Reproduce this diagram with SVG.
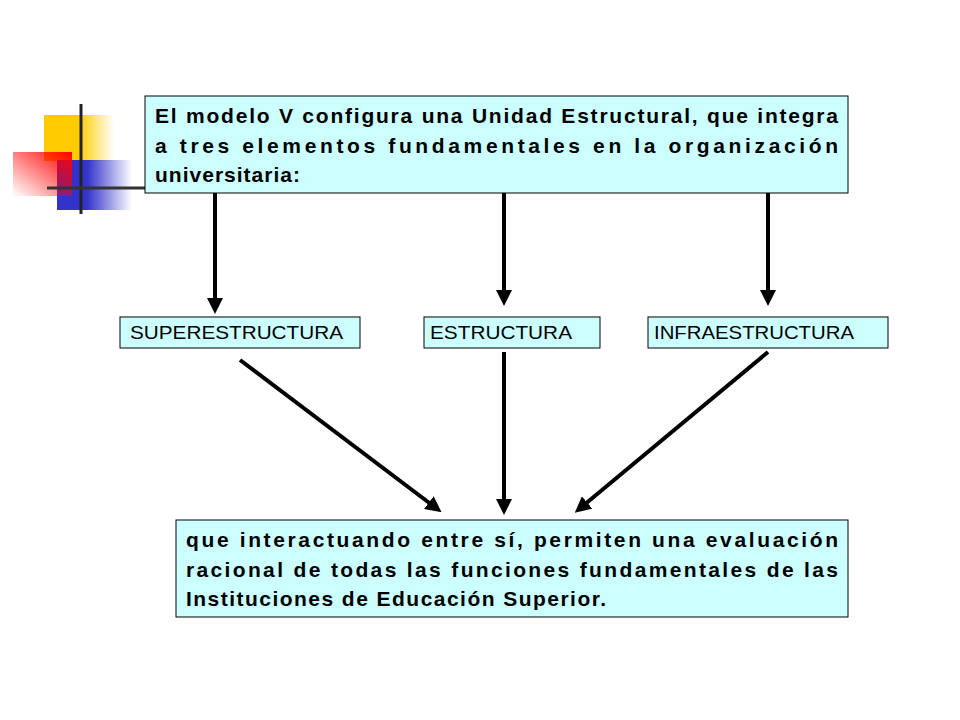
<svg xmlns="http://www.w3.org/2000/svg" width="960" height="720" viewBox="0 0 960 720">
<style>
.box{fill:#CCFFFF;stroke:#000;stroke-width:1}
.big{font-family:"Liberation Sans",Arial,sans-serif;font-weight:bold;font-size:21px;fill:#000}
.sm{font-family:"Liberation Sans",Arial,sans-serif;font-size:18px;fill:#000}
.c{stroke:#000;stroke-width:4;fill:none;marker-end:url(#ah)}
</style>
<defs>
<marker id="ah" markerWidth="4" markerHeight="4" refX="1" refY="2" orient="auto"><path d="M0,0L4,2L0,4z" fill="#000"/></marker>
<linearGradient id="gy" x1="0" x2="1"><stop offset="0.5" stop-color="#FFCC00"/><stop offset="1" stop-color="#FFCC00" stop-opacity="0"/></linearGradient>
<linearGradient id="gb" x1="0" x2="1"><stop offset="0.4" stop-color="#3333CC"/><stop offset="1" stop-color="#3333CC" stop-opacity="0"/></linearGradient>
<linearGradient id="gr" x1="1" y1="0" x2="0" y2="1"><stop offset="0" stop-color="#FF0000"/><stop offset="1" stop-color="#FF0000" stop-opacity="0"/></linearGradient>
</defs>
<g id="deco">
<rect x="44" y="115" width="70" height="46" fill="url(#gy)"/>
<rect x="57" y="160" width="75" height="50" fill="url(#gb)"/>
<rect x="13" y="152" width="59" height="44" fill="url(#gr)"/>
<line x1="81" y1="104" x2="81" y2="214" stroke="#222" stroke-width="3"/>
<line x1="47" y1="188" x2="145" y2="188" stroke="#333" stroke-width="3"/>
</g>
<g id="top">
<rect class="box" x="145" y="96" width="703" height="97"/>
<text class="big" x="155" y="123" textLength="683" lengthAdjust="spacing">El modelo V configura una Unidad Estructural, que integra</text>
<text class="big" x="155" y="153" textLength="683" lengthAdjust="spacing">a tres elementos fundamentales en la organización</text>
<text class="big" x="155" y="182" textLength="145" lengthAdjust="spacing">universitaria:</text>
</g>
<g id="n1"><rect class="box" x="120" y="317" width="240" height="31"/><text class="sm" x="130" y="339" textLength="213" lengthAdjust="spacingAndGlyphs">SUPERESTRUCTURA</text></g>
<g id="n2"><rect class="box" x="424" y="317" width="176" height="31"/><text class="sm" x="430" y="339" textLength="142" lengthAdjust="spacingAndGlyphs">ESTRUCTURA</text></g>
<g id="n3"><rect class="box" x="648" y="317" width="240" height="31"/><text class="sm" x="654" y="339" textLength="200" lengthAdjust="spacingAndGlyphs">INFRAESTRUCTURA</text></g>
<g id="bottom">
<rect class="box" x="176" y="520" width="672" height="97"/>
<text class="big" x="186" y="547" textLength="652" lengthAdjust="spacing">que interactuando entre sí, permiten una evaluación</text>
<text class="big" x="186" y="577" textLength="652" lengthAdjust="spacing">racional de todas las funciones fundamentales de las</text>
<text class="big" x="186" y="606" textLength="420" lengthAdjust="spacing">Instituciones de Educación Superior.</text>
</g>
<g id="connectors">
<line class="c" x1="215" y1="193" x2="215" y2="302"/>
<line class="c" x1="504" y1="193" x2="504" y2="294"/>
<line class="c" x1="768" y1="193" x2="768" y2="294"/>
<line class="c" x1="240" y1="360" x2="432" y2="505"/>
<line class="c" x1="504" y1="352" x2="504" y2="503"/>
<line class="c" x1="768" y1="352" x2="584" y2="505"/>
</g>
</svg>
